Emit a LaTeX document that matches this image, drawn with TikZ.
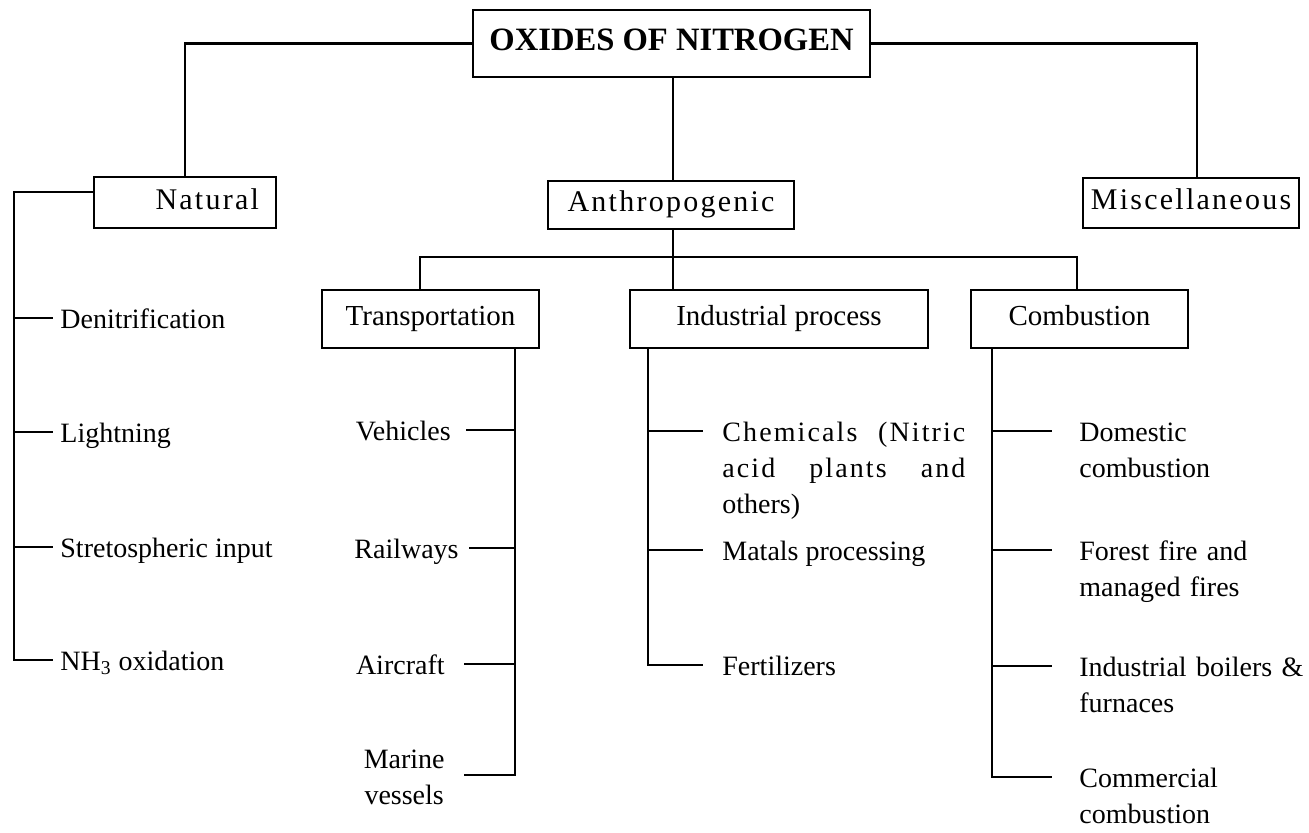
\documentclass[tikz,border=0pt]{standalone}
\usepackage{fontspec}
\setmainfont{Liberation Serif}
\newfontfamily\spaced[LetterSpace=7.5]{Liberation Serif}
\begin{document}
\begin{tikzpicture}[x=0.5pt,y=-0.5pt,
  box/.style={draw, line width=1.4pt, inner sep=0pt, text height=0.66em, text depth=0em, font=\fontsize{14.5}{17}\selectfont},
  sbox/.style={box, font=\spaced\fontsize{15}{18}\selectfont},
  item/.style={inner sep=0pt, font=\fontsize{14}{18}\selectfont},
  conn/.style={line width=1.4pt}]
\useasboundingbox (0,0) rectangle (1309,832);

% boxes
\node[box, font=\bfseries\fontsize{16.3}{19}\selectfont, minimum width=198.5pt, minimum height=33.5pt] (top) at (671.5,43.5) {OXIDES OF NITROGEN};
\node[sbox, minimum width=91pt, minimum height=25.5pt, text width=74pt, align=right, inner xsep=8.5pt] (nat) at (185,202.5) {Natural};
\node[sbox, minimum width=123pt, minimum height=24pt] (anth) at (671,205) {Anthropogenic};
\node[sbox, minimum width=108pt, minimum height=25pt] (misc) at (1191,203) {Miscellaneous};
\node[box, minimum width=108.5pt, minimum height=29pt] (trans) at (430.5,319) {Transportation};
\node[box, minimum width=149pt, minimum height=29pt] (ind) at (779,319) {Industrial process};
\node[box, minimum width=108.5pt, minimum height=29pt] (comb) at (1079.5,319) {Combustion};

% tree connectors
\coordinate (cx) at (673,0);
\coordinate (mx) at (1197,0);
\coordinate (busL) at (420,257);
\coordinate (busR) at (1077,257);
\draw[conn] (top.west) -| (nat.north);
\draw[conn] (top.east) -| (misc.north -| mx);
\draw[conn] (top.south -| cx) -- (anth.north -| cx);
\draw[conn] (anth.south -| cx) -- (cx |- busL);
\draw[conn] (trans.north -| busL) |- (busR) -- (comb.north -| busR);
\draw[conn] (cx |- busL) -- (ind.north -| cx);

% Natural list
\coordinate (nl) at (14,192);
\coordinate (n1) at (53,318);
\coordinate (n2) at (53,432);
\coordinate (n3) at (53,547);
\coordinate (n4) at (53,660);
\node[item, anchor=base west] (den) at (60,328) {Denitrification};
\node[item, anchor=base west] (lig) at (60,442) {Lightning};
\node[item, anchor=base west] (str) at (60,557) {Stretospheric input};
\node[item, anchor=base west] (nh3) at (60,670) {NH\textsubscript{3} oxidation};
\draw[conn] (nat.west |- nl) -- (nl) -- (nl |- n4) -- (n4);
\draw[conn] (nl |- n1) -- (n1);
\draw[conn] (nl |- n2) -- (n2);
\draw[conn] (nl |- n3) -- (n3);

% Transportation list
\coordinate (tv) at (515,0);
\coordinate (v1) at (466,430);
\coordinate (v2) at (469,548);
\coordinate (v3) at (464,664);
\coordinate (v4) at (464,775);
\node[item, anchor=base east] (veh) at (451,440) {Vehicles};
\node[item, anchor=base east] (rail) at (459,558) {Railways};
\node[item, anchor=base east] (air) at (445,674) {Aircraft};
\node[item, anchor=east, align=center] (mar) at (445,777) {Marine\\vessels};
\draw[conn] (trans.south -| tv) -- (tv |- v4) -- (v4);
\draw[conn] (v1) -- (tv |- v1);
\draw[conn] (v2) -- (tv |- v2);
\draw[conn] (v3) -- (tv |- v3);

% Industrial process list
\coordinate (iv) at (648,0);
\coordinate (c1) at (703,431);
\coordinate (c2) at (703,550);
\coordinate (c3) at (703,665);
\node[item, anchor=base west, text width=121.5pt, font=\spaced\fontsize{14}{18}\selectfont] (chem) at (722,441)
  {\makebox[121.5pt]{Chemicals\hfill(Nitric}\\\makebox[121.5pt]{acid\hfill plants\hfill and}\\{\rmfamily others)}};
\node[item, anchor=base west] (met) at (722,560) {Matals processing};
\node[item, anchor=base west] (fer) at (722,675) {Fertilizers};
\draw[conn] (ind.south -| iv) -- (iv |- c3) -- (c3);
\draw[conn] (iv |- c1) -- (c1);
\draw[conn] (iv |- c2) -- (c2);

% Combustion list
\coordinate (cv) at (992,0);
\coordinate (d1) at (1052,431);
\coordinate (d2) at (1052,550);
\coordinate (d3) at (1052,666);
\coordinate (d4) at (1052,777);
\node[item, anchor=base west, text width=115pt, align=left] (dom) at (1079,441) {Domestic\\combustion};
\node[item, anchor=base west, text width=115pt, align=left] (for) at (1079,560) {Forest fire and\\managed fires};
\node[item, anchor=base west, text width=115pt, align=left] (boi) at (1079,676) {Industrial boilers \&\\furnaces};
\node[item, anchor=base west, text width=115pt, align=left] (com) at (1079,787) {Commercial\\combustion};
\draw[conn] (comb.south -| cv) -- (cv |- d4) -- (d4);
\draw[conn] (cv |- d1) -- (d1);
\draw[conn] (cv |- d2) -- (d2);
\draw[conn] (cv |- d3) -- (d3);
\end{tikzpicture}
\end{document}
